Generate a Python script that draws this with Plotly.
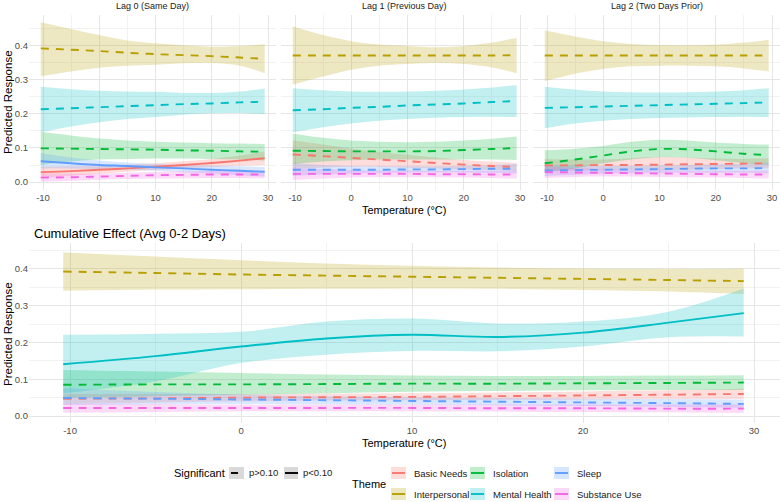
import plotly.graph_objects as go

W, H = 780, 502
FONT = "Liberation Sans, Arial, sans-serif"

themes = ["Basic Needs", "Interpersonal", "Isolation", "Mental Health", "Sleep", "Substance Use"]
colors = ["#F8766D", "#B79F00", "#00BA38", "#00BFC4", "#619CFF", "#F564E3"]

temperature = [-10.4, -5, 0, 5, 10, 15, 20, 25, 29.4]

panel_titles = ["Lag 0 (Same Day)", "Lag 1 (Previous Day)", "Lag 2 (Two Days Prior)",
                "Cumulative Effect (Avg 0-2 Days)"]
x_tick_vals = [-10, 0, 10, 20, 30]
x_tick_text = ["-10", "0", "10", "20", "30"]
y_tick_vals = [0.0, 0.1, 0.2, 0.3, 0.4]

# ---------------- Lag 0 ----------------
lag0_fit = {
    "Basic Needs":   [0.029, 0.032, 0.036, 0.040, 0.045, 0.050, 0.056, 0.063, 0.070],
    "Interpersonal": [0.393, 0.389, 0.385, 0.380, 0.376, 0.373, 0.370, 0.366, 0.362],
    "Isolation":     [0.099, 0.098, 0.097, 0.096, 0.095, 0.093, 0.092, 0.090, 0.089],
    "Mental Health": [0.214, 0.217, 0.220, 0.223, 0.226, 0.229, 0.231, 0.234, 0.236],
    "Sleep":         [0.061, 0.055, 0.050, 0.047, 0.043, 0.040, 0.036, 0.033, 0.030],
    "Substance Use": [0.013, 0.014, 0.016, 0.018, 0.020, 0.021, 0.022, 0.022, 0.022],
}
lag0_low = {
    "Basic Needs":   [0.014, 0.018, 0.024, 0.030, 0.035, 0.040, 0.044, 0.048, 0.050],
    "Interpersonal": [0.311, 0.325, 0.336, 0.342, 0.345, 0.349, 0.350, 0.342, 0.320],
    "Isolation":     [0.050, 0.060, 0.066, 0.068, 0.069, 0.069, 0.068, 0.066, 0.063],
    "Mental Health": [0.146, 0.163, 0.176, 0.185, 0.191, 0.198, 0.202, 0.203, 0.199],
    "Sleep":         [0.040, 0.040, 0.038, 0.036, 0.033, 0.029, 0.025, 0.020, 0.016],
    "Substance Use": [0.001, 0.004, 0.007, 0.009, 0.010, 0.011, 0.012, 0.012, 0.011],
}
lag0_high = {
    "Basic Needs":   [0.045, 0.046, 0.048, 0.051, 0.055, 0.061, 0.068, 0.078, 0.090],
    "Interpersonal": [0.470, 0.450, 0.432, 0.416, 0.408, 0.402, 0.398, 0.400, 0.405],
    "Isolation":     [0.148, 0.137, 0.128, 0.122, 0.118, 0.116, 0.114, 0.113, 0.112],
    "Mental Health": [0.280, 0.273, 0.268, 0.266, 0.265, 0.262, 0.262, 0.266, 0.275],
    "Sleep":         [0.085, 0.072, 0.063, 0.057, 0.053, 0.050, 0.048, 0.046, 0.044],
    "Substance Use": [0.026, 0.025, 0.025, 0.027, 0.030, 0.031, 0.032, 0.032, 0.033],
}
lag0_significant = {"Basic Needs": True, "Interpersonal": False, "Isolation": False,
                    "Mental Health": False, "Sleep": True, "Substance Use": False}

# ---------------- Lag 1 ----------------
lag1_fit = {
    "Basic Needs":   [0.081, 0.076, 0.071, 0.066, 0.061, 0.056, 0.051, 0.047, 0.044],
    "Interpersonal": [0.372, 0.372, 0.372, 0.372, 0.372, 0.372, 0.372, 0.372, 0.373],
    "Isolation":     [0.092, 0.091, 0.090, 0.090, 0.090, 0.091, 0.094, 0.097, 0.100],
    "Mental Health": [0.211, 0.214, 0.218, 0.221, 0.225, 0.228, 0.231, 0.235, 0.238],
    "Sleep":         [0.036, 0.036, 0.036, 0.036, 0.037, 0.037, 0.038, 0.039, 0.039],
    "Substance Use": [0.024, 0.024, 0.024, 0.024, 0.024, 0.023, 0.023, 0.022, 0.022],
}
lag1_low = {
    "Basic Needs":   [0.040, 0.043, 0.045, 0.044, 0.042, 0.040, 0.037, 0.035, 0.033],
    "Interpersonal": [0.286, 0.310, 0.330, 0.342, 0.347, 0.350, 0.347, 0.337, 0.320],
    "Isolation":     [0.052, 0.060, 0.064, 0.066, 0.066, 0.066, 0.066, 0.066, 0.065],
    "Mental Health": [0.146, 0.161, 0.172, 0.180, 0.185, 0.189, 0.191, 0.192, 0.191],
    "Sleep":         [0.018, 0.022, 0.025, 0.027, 0.028, 0.028, 0.028, 0.027, 0.025],
    "Substance Use": [0.006, 0.010, 0.013, 0.014, 0.014, 0.014, 0.013, 0.012, 0.010],
}
lag1_high = {
    "Basic Needs":   [0.122, 0.110, 0.098, 0.088, 0.080, 0.072, 0.065, 0.060, 0.056],
    "Interpersonal": [0.458, 0.432, 0.414, 0.404, 0.400, 0.396, 0.400, 0.410, 0.424],
    "Isolation":     [0.142, 0.130, 0.122, 0.118, 0.117, 0.118, 0.122, 0.127, 0.134],
    "Mental Health": [0.276, 0.270, 0.266, 0.265, 0.266, 0.268, 0.272, 0.278, 0.285],
    "Sleep":         [0.055, 0.050, 0.047, 0.046, 0.046, 0.046, 0.048, 0.050, 0.053],
    "Substance Use": [0.042, 0.038, 0.035, 0.034, 0.034, 0.033, 0.033, 0.033, 0.034],
}
lag1_significant = {t: False for t in themes}

# ---------------- Lag 2 ----------------
lag2_fit = {
    "Basic Needs":   [0.049, 0.049, 0.050, 0.050, 0.051, 0.052, 0.053, 0.054, 0.055],
    "Interpersonal": [0.372, 0.372, 0.372, 0.372, 0.372, 0.372, 0.372, 0.372, 0.372],
    "Isolation":     [0.055, 0.066, 0.078, 0.090, 0.097, 0.096, 0.090, 0.083, 0.079],
    "Mental Health": [0.218, 0.220, 0.222, 0.224, 0.226, 0.228, 0.230, 0.232, 0.234],
    "Sleep":         [0.034, 0.035, 0.036, 0.037, 0.038, 0.039, 0.040, 0.040, 0.041],
    "Substance Use": [0.029, 0.028, 0.027, 0.026, 0.025, 0.024, 0.023, 0.022, 0.022],
}
lag2_low = {
    "Basic Needs":   [0.030, 0.034, 0.036, 0.036, 0.035, 0.036, 0.038, 0.040, 0.040],
    "Interpersonal": [0.296, 0.318, 0.332, 0.340, 0.342, 0.342, 0.340, 0.334, 0.325],
    "Isolation":     [0.030, 0.040, 0.055, 0.066, 0.073, 0.071, 0.064, 0.055, 0.050],
    "Mental Health": [0.158, 0.172, 0.180, 0.185, 0.188, 0.190, 0.191, 0.192, 0.191],
    "Sleep":         [0.018, 0.021, 0.024, 0.026, 0.027, 0.027, 0.027, 0.027, 0.025],
    "Substance Use": [0.012, 0.015, 0.016, 0.016, 0.015, 0.014, 0.013, 0.012, 0.010],
}
lag2_high = {
    "Basic Needs":   [0.068, 0.066, 0.066, 0.070, 0.074, 0.072, 0.069, 0.068, 0.070],
    "Interpersonal": [0.446, 0.428, 0.414, 0.406, 0.403, 0.402, 0.404, 0.410, 0.418],
    "Isolation":     [0.093, 0.098, 0.106, 0.118, 0.124, 0.122, 0.116, 0.112, 0.110],
    "Mental Health": [0.280, 0.272, 0.266, 0.264, 0.263, 0.264, 0.266, 0.270, 0.276],
    "Sleep":         [0.050, 0.049, 0.048, 0.048, 0.049, 0.050, 0.052, 0.054, 0.057],
    "Substance Use": [0.046, 0.041, 0.038, 0.036, 0.035, 0.034, 0.033, 0.033, 0.034],
}
lag2_significant = {t: False for t in themes}

# ---------------- Cumulative ----------------
cum_fit = {
    "Basic Needs":   [0.047, 0.048, 0.050, 0.051, 0.052, 0.054, 0.056, 0.058, 0.060],
    "Interpersonal": [0.393, 0.389, 0.385, 0.382, 0.379, 0.376, 0.373, 0.370, 0.367],
    "Isolation":     [0.085, 0.086, 0.086, 0.087, 0.088, 0.088, 0.089, 0.090, 0.091],
    "Mental Health": [0.141, 0.163, 0.189, 0.211, 0.221, 0.215, 0.227, 0.254, 0.280],
    "Sleep":         [0.049, 0.047, 0.045, 0.043, 0.041, 0.039, 0.037, 0.035, 0.033],
    "Substance Use": [0.022, 0.022, 0.022, 0.022, 0.022, 0.021, 0.021, 0.020, 0.020],
}
cum_low = {
    "Basic Needs":   [0.034, 0.037, 0.040, 0.042, 0.043, 0.044, 0.045, 0.046, 0.046],
    "Interpersonal": [0.341, 0.344, 0.345, 0.346, 0.347, 0.346, 0.343, 0.339, 0.332],
    "Isolation":     [0.049, 0.054, 0.058, 0.062, 0.066, 0.068, 0.070, 0.071, 0.071],
    "Mental Health": [0.062, 0.094, 0.144, 0.167, 0.177, 0.176, 0.189, 0.214, 0.216],
    "Sleep":         [0.030, 0.032, 0.033, 0.032, 0.031, 0.029, 0.027, 0.025, 0.022],
    "Substance Use": [0.009, 0.011, 0.013, 0.013, 0.013, 0.012, 0.011, 0.010, 0.008],
}
cum_high = {
    "Basic Needs":   [0.060, 0.060, 0.060, 0.061, 0.062, 0.064, 0.067, 0.070, 0.074],
    "Interpersonal": [0.445, 0.434, 0.424, 0.415, 0.409, 0.404, 0.401, 0.400, 0.401],
    "Isolation":     [0.125, 0.121, 0.117, 0.113, 0.110, 0.109, 0.109, 0.110, 0.111],
    "Mental Health": [0.221, 0.224, 0.229, 0.257, 0.265, 0.252, 0.257, 0.284, 0.347],
    "Sleep":         [0.076, 0.065, 0.058, 0.054, 0.051, 0.049, 0.047, 0.046, 0.045],
    "Substance Use": [0.035, 0.033, 0.031, 0.031, 0.031, 0.031, 0.031, 0.031, 0.032],
}
cum_significant = {"Basic Needs": False, "Interpersonal": False, "Isolation": False,
                   "Mental Health": True, "Sleep": False, "Substance Use": False}

panels = [
    (lag0_fit, lag0_low, lag0_high, lag0_significant),
    (lag1_fit, lag1_low, lag1_high, lag1_significant),
    (lag2_fit, lag2_low, lag2_high, lag2_significant),
    (cum_fit, cum_low, cum_high, cum_significant),
]

# ---------------- layout geometry (pixels) ----------------
panel_px = [  # (x0, x1, y0_top, y1_bottom)
    (29, 276, 15, 190),
    (281, 528, 15, 190),
    (533, 780, 15, 190),
    (29, 780, 243, 423),
]
x_ranges = [[-12.49, 31.42]] * 3 + [[-12.4, 31.52]]
y_ranges = [[-0.0235, 0.491]] * 3 + [[-0.019, 0.4707]]

BAND_ALPHA = 0.24
DASH = "8px,7px"


def rgba(hex_color, a):
    h = hex_color.lstrip("#")
    r, g, b = int(h[0:2], 16), int(h[2:4], 16), int(h[4:6], 16)
    return f"rgba({r},{g},{b},{a})"


def px_x(x):
    return x / W


def px_y(y):
    return 1 - y / H


fig = go.Figure()

for p, (fit, low, high, sig) in enumerate(panels):
    xa = "x" if p == 0 else f"x{p + 1}"
    ya = "y" if p == 0 else f"y{p + 1}"
    # ribbons first
    for t, c in zip(themes, colors):
        fig.add_trace(go.Scatter(x=temperature, y=low[t], xaxis=xa, yaxis=ya, mode="lines",
                                 line=dict(width=0, shape="spline", color=c),
                                 showlegend=False, hoverinfo="skip"))
        fig.add_trace(go.Scatter(x=temperature, y=high[t], xaxis=xa, yaxis=ya, mode="lines",
                                 line=dict(width=0, shape="spline", color=c),
                                 fill="tonexty", fillcolor=rgba(c, BAND_ALPHA),
                                 showlegend=False, hoverinfo="skip"))
    # lines on top
    for t, c in zip(themes, colors):
        fig.add_trace(go.Scatter(x=temperature, y=fit[t], xaxis=xa, yaxis=ya, mode="lines",
                                 line=dict(width=1.9, shape="spline", color=c,
                                           dash="solid" if sig[t] else DASH),
                                 name=t, showlegend=False))

axis_common = dict(showline=False, zeroline=False, ticks="", showgrid=True,
                   gridcolor="#e6e6e6", gridwidth=1,
                   tickfont=dict(family=FONT, size=9.5, color="#4d4d4d"))

layout = dict(width=W, height=H, margin=dict(l=0, r=0, t=0, b=0),
              paper_bgcolor="white", plot_bgcolor="white", showlegend=False,
              font=dict(family=FONT))

for p in range(4):
    x0, x1, yt, yb = panel_px[p]
    xk = "xaxis" if p == 0 else f"xaxis{p + 1}"
    yk = "yaxis" if p == 0 else f"yaxis{p + 1}"
    anchor_x = "y" if p == 0 else f"y{p + 1}"
    anchor_y = "x" if p == 0 else f"x{p + 1}"
    layout[xk] = dict(axis_common, domain=[px_x(x0), px_x(x1)], range=x_ranges[p],
                      anchor=anchor_x, tickvals=x_tick_vals, ticktext=x_tick_text,
                      minor=dict(tickvals=[-5, 5, 15, 25], showgrid=True,
                                 gridcolor="#f2f2f2", gridwidth=0.7))
    layout[yk] = dict(axis_common, domain=[px_y(yb), px_y(yt)], range=y_ranges[p],
                      anchor=anchor_y, tickvals=y_tick_vals, tickformat=".1f",
                      showticklabels=(p == 0 or p == 3),
                      minor=dict(tickvals=[0.05, 0.15, 0.25, 0.35, 0.45], showgrid=True,
                                 gridcolor="#f2f2f2", gridwidth=0.7))

fig.update_layout(**layout)

annotations = []
# strip titles
for p in range(3):
    x0, x1, yt, yb = panel_px[p]
    annotations.append(dict(text=panel_titles[p], x=px_x((x0 + x1) / 2), y=px_y(6),
                            xref="paper", yref="paper", xanchor="center", yanchor="middle",
                            showarrow=False, font=dict(family=FONT, size=9, color="#1a1a1a")))
annotations.append(dict(text=panel_titles[3], x=px_x(32), y=px_y(233), xref="paper", yref="paper",
                        xanchor="left", yanchor="middle", showarrow=False,
                        font=dict(family=FONT, size=13, color="black")))
# axis titles
for yc in (102, 334):
    annotations.append(dict(text="Predicted Response", x=px_x(8), y=px_y(yc), xref="paper",
                            yref="paper", xanchor="center", yanchor="middle", textangle=-90,
                            showarrow=False, font=dict(family=FONT, size=11.5, color="black")))
for yc in (210, 443):
    annotations.append(dict(text="Temperature (°C)", x=px_x(404), y=px_y(yc), xref="paper",
                            yref="paper", xanchor="center", yanchor="middle",
                            showarrow=False, font=dict(family=FONT, size=11, color="black")))

# ---------------- legend (drawn manually) ----------------
shapes = []
LEG_FONT = dict(family=FONT, size=9.5, color="#1a1a1a")
annotations.append(dict(text="Significant", x=px_x(172), y=px_y(473), xref="paper", yref="paper",
                        xanchor="left", yanchor="middle", showarrow=False,
                        font=dict(family=FONT, size=11, color="black")))
sig_keys = [("p>0.10", 229, 244, (231, 238)), ("p<0.10", 284, 298, (285, 298))]
for label, kx0, kx1, (lx0, lx1) in sig_keys:
    shapes.append(dict(type="rect", xref="paper", yref="paper", x0=px_x(kx0), x1=px_x(kx1),
                       y0=px_y(479), y1=px_y(467), fillcolor="#d9d9d9", line=dict(width=0)))
    shapes.append(dict(type="line", xref="paper", yref="paper", x0=px_x(lx0), x1=px_x(lx1),
                       y0=px_y(473), y1=px_y(473), line=dict(color="black", width=1.9)))
    annotations.append(dict(text=label, x=px_x(kx1 + 3), y=px_y(472), xref="paper", yref="paper",
                            xanchor="left", yanchor="middle", showarrow=False, font=LEG_FONT))

annotations.append(dict(text="Theme", x=px_x(350), y=px_y(484), xref="paper", yref="paper",
                        xanchor="left", yanchor="middle", showarrow=False,
                        font=dict(family=FONT, size=11, color="black")))
col_px = [391, 470, 554]
row_px = [467, 488]
for i, (t, c) in enumerate(zip(themes, colors)):
    col = i // 2
    row = i % 2
    kx0 = col_px[col]
    ky0 = row_px[row]
    shapes.append(dict(type="rect", xref="paper", yref="paper", x0=px_x(kx0), x1=px_x(kx0 + 15),
                       y0=px_y(ky0 + 12), y1=px_y(ky0), fillcolor=rgba(c, 0.25), line=dict(width=0)))
    shapes.append(dict(type="line", xref="paper", yref="paper", x0=px_x(kx0 + 1), x1=px_x(kx0 + 14),
                       y0=px_y(ky0 + 6), y1=px_y(ky0 + 6), line=dict(color=c, width=1.9)))
    annotations.append(dict(text=t, x=px_x(kx0 + 21), y=px_y(ky0 + 6), xref="paper", yref="paper",
                            xanchor="left", yanchor="middle", showarrow=False, font=LEG_FONT))

fig.update_layout(annotations=annotations, shapes=shapes)
fig.write_html("out.html")
